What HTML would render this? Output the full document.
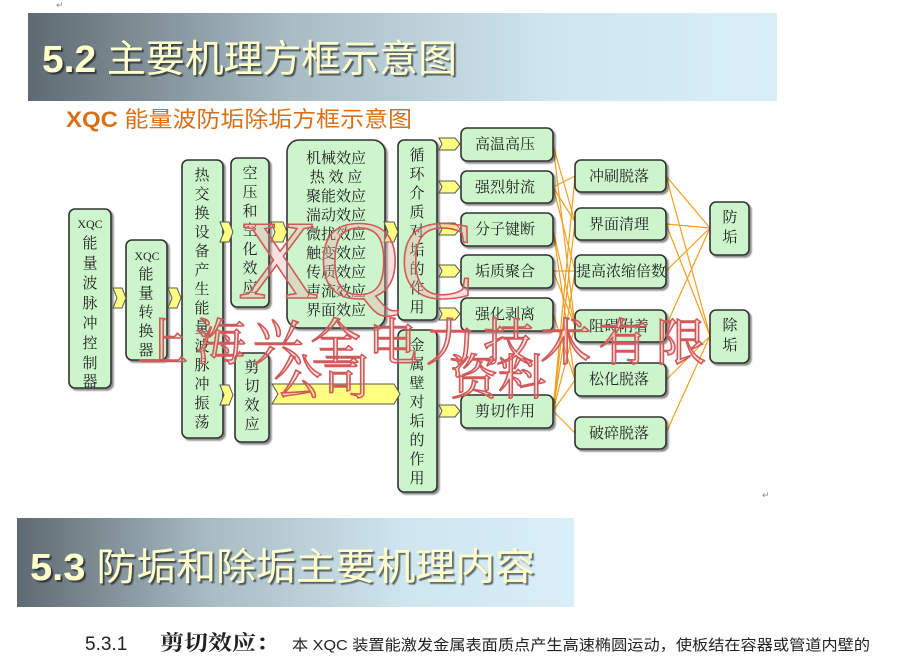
<!DOCTYPE html>
<html><head><meta charset="utf-8"><style>
html,body{margin:0;padding:0;background:#fff;width:898px;height:656px;overflow:hidden}
svg{display:block}
.bx{fill:#ccf5cc;stroke:#333;stroke-width:1.6}
.t{font-family:"Liberation Serif","Noto Serif CJK SC",serif;font-size:15px;fill:#222}
.ch{fill:#ffff80;stroke:#555;stroke-width:1}
.ln{stroke:#f0a020;stroke-width:1.2;fill:none}
.wm{font-family:"Liberation Serif","Noto Serif CJK SC",serif;fill:rgba(240,170,170,0.35);stroke:#d05a5a;stroke-width:1.6}
</style></head><body>
<svg width="898" height="656" viewBox="0 0 898 656" xmlns="http://www.w3.org/2000/svg">
<defs>
<linearGradient id="g1" x1="0" x2="1" y1="0" y2="0">
<stop offset="0" stop-color="#5f6a72"/><stop offset="0.35" stop-color="#a9bcc4"/><stop offset="0.7" stop-color="#cfe5ef"/><stop offset="1" stop-color="#d9eef8"/></linearGradient>
<filter id="sh"><feDropShadow dx="2" dy="2" stdDeviation="0.6" flood-color="#000" flood-opacity="0.55"/></filter>
<filter id="bs"><feDropShadow dx="2" dy="2" stdDeviation="0.8" flood-color="#000" flood-opacity="0.45"/></filter>
</defs>
<text x="56" y="8" font-size="9" fill="#888">↵</text>
<rect x="28" y="13" width="749" height="88" fill="url(#g1)"/>
<text x="42" y="72" font-family="Liberation Sans,Noto Sans CJK SC,sans-serif" font-size="38" fill="#ffffcc" filter="url(#sh)" textLength="415" lengthAdjust="spacingAndGlyphs"><tspan font-weight="bold">5.2</tspan> 主要机理方框示意图</text>
<text x="66" y="127" font-family="Liberation Sans,Noto Sans CJK SC,sans-serif" font-size="22" fill="#d8701a" textLength="346" lengthAdjust="spacingAndGlyphs"><tspan font-weight="bold">XQC</tspan> 能量波防垢除垢方框示意图</text>

<g class="ln">
<path d="M553 145L575 222M553 145L575 326"/>
<path d="M553 187L575 176M553 187L575 222M553 187L575 271"/>
<path d="M553 230L575 326M553 230L575 380"/>
<path d="M553 271L575 271M553 271L575 326"/>
<path d="M553 314L575 380"/>
<path d="M553 411L575 176M553 411L575 222M553 411L575 271M553 411L575 326M553 411L575 380M553 411L575 433"/>
<path d="M666 176L710 228M666 176L710 336M666 224L710 228M666 224L710 336M666 271L710 228M666 326L710 228M666 380L710 336M666 433L710 336"/>
</g>

<g filter="url(#bs)">
<rect class="bx" x="69" y="209" width="42" height="179" rx="6"/>
<rect class="bx" x="126" y="240" width="41" height="120" rx="6"/>
<rect class="bx" x="182" y="160" width="41" height="278" rx="6"/>
<rect class="bx" x="231" y="158" width="38" height="149" rx="6"/>
<rect class="bx" x="235" y="353" width="34" height="89" rx="6"/>
<rect class="bx" x="287" y="140" width="98" height="188" rx="12"/>
<rect class="bx" x="398" y="140" width="39" height="180" rx="6"/>
<rect class="bx" x="398" y="330" width="39" height="162" rx="6"/>
<rect class="bx" x="461" y="128" width="92" height="33" rx="6"/>
<rect class="bx" x="461" y="171" width="92" height="32" rx="6"/>
<rect class="bx" x="461" y="213" width="92" height="33" rx="6"/>
<rect class="bx" x="461" y="255" width="92" height="33" rx="6"/>
<rect class="bx" x="461" y="298" width="92" height="33" rx="6"/>
<rect class="bx" x="461" y="395" width="92" height="33" rx="6"/>
<rect class="bx" x="575" y="160" width="91" height="32" rx="6"/>
<rect class="bx" x="575" y="208" width="91" height="32" rx="6"/>
<rect class="bx" x="575" y="255" width="91" height="33" rx="6"/>
<rect class="bx" x="575" y="310" width="91" height="32" rx="6"/>
<rect class="bx" x="575" y="363" width="91" height="33" rx="6"/>
<rect class="bx" x="575" y="417" width="91" height="32" rx="6"/>
<rect class="bx" x="710" y="202" width="39" height="53" rx="6"/>
<rect class="bx" x="710" y="310" width="39" height="53" rx="6"/>
</g>

<g class="ch">
<path d="M113 288h9l4 10-4 10h-9l4-10z"/>
<path d="M168 288h9l4 10-4 10h-9l4-10z"/>
<path d="M220 222h9l4 10-4 10h-9l4-10z"/>
<path d="M220 385h9l4 10-4 10h-9l4-10z"/>
<path d="M271 222h12l4 10-4 10h-12l4-10z"/>
<path d="M384 222h10l4 10-4 10h-10l4-10z"/>
<path d="M272 384h122l6 10-6 10h-122l6-10z"/>
<path d="M439 138h16l5 6-5 6h-16l3-6z"/>
<path d="M439 181h16l5 6-5 6h-16l3-6z"/>
<path d="M439 223h16l5 6-5 6h-16l3-6z"/>
<path d="M439 265h16l5 6-5 6h-16l3-6z"/>
<path d="M439 308h16l5 6-5 6h-16l3-6z"/>
<path d="M439 405h16l5 6-5 6h-16l3-6z"/>
</g>

<g class="t" text-anchor="middle">
<text x="90" y="228" font-size="12">XQC</text>
<text x="90" y="248">能</text><text x="90" y="268">量</text><text x="90" y="288">波</text><text x="90" y="308">脉</text><text x="90" y="328">冲</text><text x="90" y="348">控</text><text x="90" y="368">制</text><text x="90" y="386">器</text>
<text x="147" y="260" font-size="12">XQC</text>
<text x="146" y="279">能</text><text x="146" y="298">量</text><text x="146" y="317">转</text><text x="146" y="336">换</text><text x="146" y="355">器</text>
<text x="202" y="180">热</text><text x="202" y="199">交</text><text x="202" y="218">换</text><text x="202" y="237">设</text><text x="202" y="256">备</text><text x="202" y="275">产</text><text x="202" y="294">生</text><text x="202" y="313">能</text><text x="202" y="332">量</text><text x="202" y="351">波</text><text x="202" y="370">脉</text><text x="202" y="389">冲</text><text x="202" y="408">振</text><text x="202" y="427">荡</text>
<text x="250" y="178">空</text><text x="250" y="197">压</text><text x="250" y="216">和</text><text x="250" y="235">空</text><text x="250" y="254">化</text><text x="250" y="273">效</text><text x="250" y="292">应</text>
<text x="252" y="372">剪</text><text x="252" y="391">切</text><text x="252" y="410">效</text><text x="252" y="429">应</text>
<text x="336" y="163">机械效应</text><text x="336" y="182">热 效 应</text><text x="336" y="201">聚能效应</text><text x="336" y="220">湍动效应</text><text x="336" y="239">微扰效应</text><text x="336" y="258">触变效应</text><text x="336" y="277">传质效应</text><text x="336" y="296">声流效应</text><text x="336" y="315">界面效应</text>
<text x="417" y="160">循</text><text x="417" y="179">环</text><text x="417" y="198">介</text><text x="417" y="217">质</text><text x="417" y="236">对</text><text x="417" y="255">垢</text><text x="417" y="274">的</text><text x="417" y="293">作</text><text x="417" y="312">用</text>
<text x="417" y="350">金</text><text x="417" y="369">属</text><text x="417" y="388">壁</text><text x="417" y="407">对</text><text x="417" y="426">垢</text><text x="417" y="445">的</text><text x="417" y="464">作</text><text x="417" y="483">用</text>
<text x="505" y="149">高温高压</text><text x="505" y="192">强烈射流</text><text x="505" y="234">分子键断</text><text x="505" y="276">垢质聚合</text><text x="505" y="319">强化剥离</text><text x="505" y="416">剪切作用</text>
<text x="619" y="181">冲刷脱落</text><text x="619" y="229">界面清理</text><text x="621" y="276">提高浓缩倍数</text><text x="619" y="331">阻碍附着</text><text x="619" y="384">松化脱落</text><text x="619" y="438">破碎脱落</text>
<text x="730" y="222">防</text><text x="730" y="242">垢</text><text x="730" y="330">除</text><text x="730" y="350">垢</text>
</g>

<text class="wm" x="238" y="298" font-size="112">XQC</text>
<text class="wm" x="138" y="360" font-size="50" textLength="568" lengthAdjust="spacing">上海兴全电力技术有限</text>
<text class="wm" x="274" y="394" font-size="48">公司</text>
<text class="wm" x="450" y="394" font-size="48">资料</text>

<text x="762" y="498" font-size="9" fill="#888">↵</text>
<rect x="17" y="518" width="557" height="89" fill="url(#g1)"/>
<text x="30" y="580" font-family="Liberation Sans,Noto Sans CJK SC,sans-serif" font-size="38" fill="#ffffcc" filter="url(#sh)" textLength="505" lengthAdjust="spacingAndGlyphs"><tspan font-weight="bold">5.3</tspan>  防垢和除垢主要机理内容</text>
<text x="85" y="650" font-family="Liberation Sans,Noto Sans CJK SC,sans-serif" font-size="19" fill="#222">5.3.1</text>
<text x="160" y="650" font-family="Liberation Serif,Noto Serif CJK SC,serif" font-size="21" font-weight="bold" fill="#222" textLength="120" lengthAdjust="spacingAndGlyphs">剪切效应：</text>
<text x="292" y="650" font-family="Liberation Sans,Noto Sans CJK SC,sans-serif" font-size="15" fill="#222" textLength="578" lengthAdjust="spacingAndGlyphs">本 XQC 装置能激发金属表面质点产生高速椭圆运动，使板结在容器或管道内壁的</text>
</svg>
</body></html>
